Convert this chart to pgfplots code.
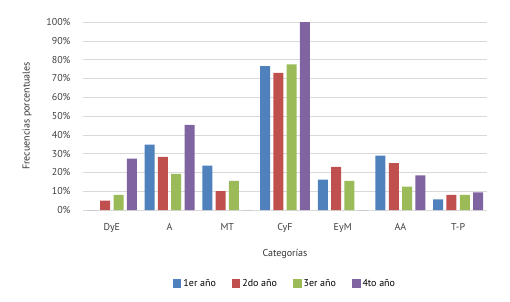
\documentclass[border=0pt]{standalone}
\usepackage{pgfplots}
\pgfplotsset{compat=1.18}
\usepackage{fontspec}
\setmainfont{PT Sans}
\definecolor{c1}{HTML}{4F81BD}
\definecolor{c2}{HTML}{C0504D}
\definecolor{c3}{HTML}{9BBB59}
\definecolor{c4}{HTML}{8064A2}
\definecolor{gridc}{HTML}{D9D9D9}
\begin{document}
\begin{tikzpicture}
\begin{axis}[
  scale only axis, width=404pt, height=188pt,
  ybar=3.3pt, bar width=10pt,
  xmin=-0.5, xmax=6.5, ymin=0, ymax=100,
  xtick={0,1,2,3,4,5,6},
  xticklabels={DyE,A,MT,CyF,EyM,AA,T-P},
  ytick={0,10,...,100},
  yticklabel={\pgfmathprintnumber{\tick}\%},
  /pgf/number format/assume math mode=true,
  ymajorgrids, grid style={gridc, line width=0.6pt},
  axis x line*=bottom, axis y line*=left,
  x axis line style={gridc, line width=0.8pt, -},
  y axis line style={draw=none},
  major tick length=0pt,
  tick label style={font=\fontsize{10}{12}\selectfont, text=black!75},
  yticklabel style={xshift=-9pt},
  xticklabel style={yshift=-10pt},
  xlabel={Categorías}, xlabel style={font=\fontsize{10}{12}\selectfont, text=black!80, yshift=-10pt},
  ylabel={Frecuencias porcentuales}, ylabel style={font=\fontsize{10}{12}\selectfont, text=black!80, yshift=8pt},
  legend columns=4,
  legend style={draw=none, at={(0.5,-0.345)}, anchor=north, font=\fontsize{10}{12}\selectfont,
    /tikz/every even column/.append style={column sep=14pt}},
  legend image code/.code={\fill[#1] (0cm,-0.15cm) rectangle (0.3cm,0.15cm);},
  every axis plot/.append style={draw=none},
]
\addplot[fill=c1] coordinates {(0,0) (1,34.8) (2,23.6) (3,76.5) (4,16.2) (5,28.9) (6,5.7)};
\addplot[fill=c2] coordinates {(0,5) (1,28.2) (2,10.1) (3,73) (4,22.9) (5,25) (6,8)};
\addplot[fill=c3] coordinates {(0,8) (1,19.2) (2,15.5) (3,77.4) (4,15.5) (5,12.4) (6,8)};
\addplot[fill=c4] coordinates {(0,27.3) (1,45.3) (2,0) (3,100) (4,0) (5,18.4) (6,9.4)};
\legend{1er año, 2do año, 3er año, 4to año}
\end{axis}
\useasboundingbox (current axis.south west) ++(-83pt,-91pt) rectangle ++(510pt,301pt);
\end{tikzpicture}
\end{document}
